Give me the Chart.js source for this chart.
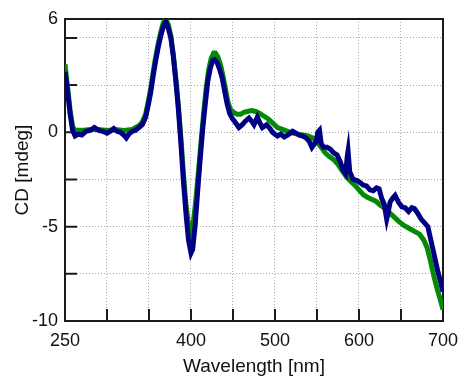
<!DOCTYPE html>
<html>
<head>
<meta charset="utf-8">
<script src="https://cdn.jsdelivr.net/npm/chart.js@4/dist/chart.umd.min.js"></script>
<style>
  html, body { margin: 0; padding: 0; background: #fff; }
</style>
</head>
<body>
<canvas id="cd" width="467" height="376"></canvas>
<script>
// measured (navy) spectrum
const blueNm = [250, 253, 256, 259, 262, 266, 270, 275, 280, 285, 290, 295, 300, 304, 308, 312, 316, 320, 323, 326,
  330, 334, 338, 342, 346, 349, 352, 355, 358, 361, 364, 367, 370, 373, 376, 379, 382, 385, 388, 391,
  394, 397, 400, 402, 405, 408, 411, 414, 417, 420, 423, 426, 428, 431, 434, 437, 440, 443, 446, 449,
  453, 457, 461, 465, 469, 472, 475, 479, 482, 485, 490, 494, 497, 500, 503, 507, 511, 515, 518, 521,
  525, 529, 533, 537, 541, 544, 547, 549, 551, 553, 555, 558, 562, 566, 570, 574, 578, 581, 584, 586,
  587, 589, 593, 597, 601, 605, 609, 613, 617, 621, 624, 627, 630, 633, 635, 637, 640, 643, 647, 651,
  655, 659, 663, 666, 670, 674, 678, 682, 685, 688, 691, 694, 697, 700];
const blueCd = [3.2, 2.2, 1.0, 0.1, -0.2, -0.1, -0.15, 0.05, 0.1, 0.25, 0.1, 0.05, -0.05, 0.05, 0.2, 0.05, 0.0, -0.15, -0.3, -0.1,
  0.05, 0.1, 0.25, 0.4, 0.8, 1.4, 2.1, 3.0, 3.8, 4.5, 5.1, 5.6, 5.85, 5.5, 5.0, 4.0, 2.7, 1.2, -0.6, -2.6,
  -4.3, -5.7, -6.4, -6.2, -4.9, -3.1, -1.4, 0.2, 1.5, 2.7, 3.4, 3.8, 3.85, 3.7, 3.35, 2.9, 2.2, 1.5, 1.0, 0.75,
  0.5, 0.25, 0.4, 0.6, 0.75, 0.6, 0.4, 0.8, 0.5, 0.25, 0.4, 0.2, 0.0, -0.1, -0.2, -0.1, -0.25, -0.15, -0.05, 0.05,
  -0.05, -0.15, -0.2, -0.3, -0.5, -0.8, -0.6, -0.5, 0.0, 0.1, -0.6, -0.8, -0.8, -0.9, -1.1, -1.2, -1.6, -2.0, -2.2, -1.3,
  -1.0, -2.1, -2.5, -2.55, -2.65, -2.8, -2.85, -3.05, -3.1, -2.95, -3.0, -3.5, -3.8, -4.6, -4.2, -3.7, -3.5, -3.35, -3.7, -3.95,
  -4.0, -4.2, -4.0, -4.05, -4.3, -4.6, -4.8, -5.0, -5.6, -6.2, -6.8, -7.4, -7.9, -8.45];

// reference (green) spectrum
const greenNm = [250, 253, 256, 259, 262, 266, 270, 280, 290, 300, 310, 320, 330, 338, 342, 346, 349, 352, 355, 358,
  361, 364, 367, 370, 373, 376, 379, 382, 385, 388, 391, 394, 397, 400, 403, 406, 409, 412, 415, 418,
  421, 424, 427, 429, 432, 435, 438, 441, 444, 447, 451, 455, 459, 463, 467, 472, 477, 482, 487, 492,
  497, 503, 509, 515, 521, 527, 533, 539, 545, 550, 555, 560, 565, 570, 575, 580, 585, 590, 595, 600,
  605, 610, 615, 620, 625, 630, 636, 642, 648, 654, 660, 666, 672, 677, 681, 685, 689, 693, 697, 700];
const greenCd = [3.6, 2.4, 1.2, 0.3, 0.1, 0.1, 0.1, 0.15, 0.15, 0.1, 0.15, 0.1, 0.15, 0.35, 0.55, 0.95, 1.6, 2.3, 3.2, 4.0,
  4.7, 5.3, 5.8, 6.0, 5.7, 5.1, 4.1, 2.8, 1.4, -0.3, -2.2, -3.8, -4.9, -5.25, -4.7, -3.5, -2.0, -0.5, 1.0, 2.3,
  3.3, 3.9, 4.2, 4.2, 4.0, 3.6, 3.0, 2.3, 1.6, 1.2, 1.05, 0.95, 0.95, 1.05, 1.1, 1.15, 1.1, 1.0, 0.85, 0.7,
  0.5, 0.25, 0.15, 0.05, -0.05, -0.1, -0.15, -0.2, -0.3, -0.5, -0.8, -1.1, -1.3, -1.45, -1.7, -2.05, -2.35, -2.6, -2.8, -3.05,
  -3.3, -3.45, -3.55, -3.65, -3.85, -4.0, -4.25, -4.5, -4.75, -4.95, -5.1, -5.25, -5.4, -5.7, -6.1, -6.8, -7.6, -8.3, -8.9, -9.4];

const xTicks = [250, 300, 350, 400, 450, 500, 550, 600, 650, 700];
const xLabels = [250, 400, 500, 600, 700];
const yTicks = [-10, -7.5, -5, -2.5, 0, 2.5, 5, 6];
const yLabels = [-10, -5, 0, 6];

const toPoints = (xs, ys) => xs.map((x, i) => ({ x: x, y: ys[i] }));
const font = 'Liberation Sans, Arial, sans-serif';

// box round the plot and the little inward ticks, matlab style
const frame = {
  id: 'frame',
  beforeDatasetsDraw(chart) {
    const { ctx, chartArea: a, scales: { x, y } } = chart;
    ctx.save();
    ctx.strokeStyle = '#1a1a1a';
    ctx.lineWidth = 2;
    ctx.beginPath();
    xTicks.slice(1, -1).forEach(v => {
      const px = x.getPixelForValue(v);
      ctx.moveTo(px, a.bottom);
      ctx.lineTo(px, a.bottom - 12);
    });
    yTicks.slice(1, -1).forEach(v => {
      const py = y.getPixelForValue(v);
      ctx.moveTo(a.left, py);
      ctx.lineTo(a.left + 12, py);
    });
    ctx.stroke();
    ctx.strokeRect(a.left, a.top, a.right - a.left, a.bottom - a.top);
    ctx.restore();
  }
};

new Chart(document.getElementById('cd'), {
  type: 'line',
  data: {
    datasets: [
      {
        label: 'measured',
        data: toPoints(blueNm, blueCd),
        borderColor: '#000085',
        borderWidth: 5,
        pointRadius: 0,
        tension: 0
      },
      {
        label: 'reference',
        data: toPoints(greenNm, greenCd),
        borderColor: '#058a05',
        borderWidth: 5,
        pointRadius: 0,
        tension: 0
      }
    ]
  },
  options: {
    responsive: false,
    animation: false,
    layout: { padding: { top: 19, right: 15, left: 0, bottom: 0 } },
    plugins: {
      legend: { display: false },
      tooltip: { enabled: false }
    },
    scales: {
      x: {
        type: 'linear',
        min: 250,
        max: 700,
        afterBuildTicks: axis => { axis.ticks = xTicks.map(v => ({ value: v })); },
        afterFit: axis => { axis.height = 55; },
        ticks: {
          autoSkip: false,
          maxRotation: 0,
          padding: 9,
          color: '#111',
          font: { family: font, size: 18 },
          callback: v => xLabels.includes(v) ? String(v) : ''
        },
        grid: { color: '#a8a8a8', lineWidth: 1, drawTicks: false },
        border: { display: false, dash: [1, 2] },
        title: {
          display: true,
          text: 'Wavelength [nm]',
          color: '#111',
          padding: 0,
          font: { family: font, size: 19, lineHeight: 1 }
        }
      },
      y: {
        min: -10,
        max: 6,
        afterBuildTicks: axis => { axis.ticks = yTicks.map(v => ({ value: v })); },
        afterFit: axis => { axis.width = 65; },
        ticks: {
          autoSkip: false,
          padding: 7,
          color: '#111',
          font: { family: font, size: 18 },
          callback: v => yLabels.includes(v) ? String(v) : ''
        },
        grid: { color: '#a8a8a8', lineWidth: 1, drawTicks: false },
        border: { display: false, dash: [1, 2] },
        title: {
          display: true,
          text: 'CD [mdeg]',
          color: '#111',
          padding: { top: 13, bottom: 0 },
          font: { family: font, size: 19, lineHeight: 1 }
        }
      }
    }
  },
  plugins: [frame]
});
</script>
</body>
</html>
